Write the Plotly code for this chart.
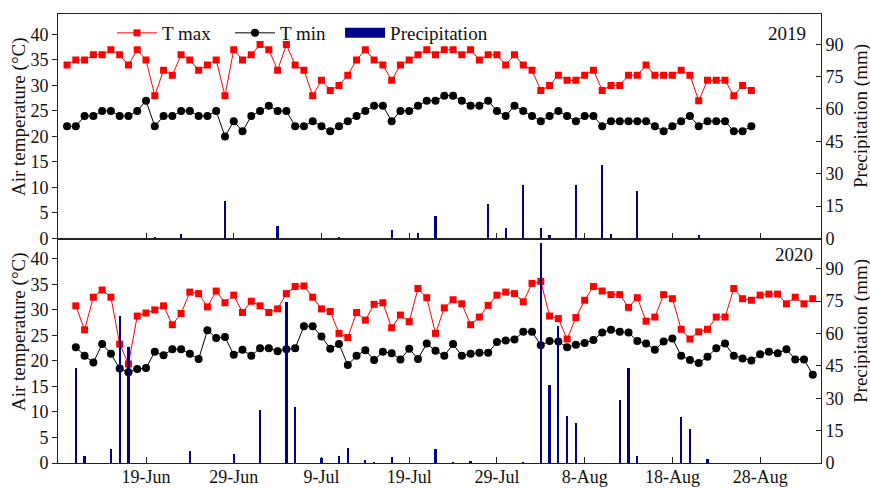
import plotly.graph_objects as go
from plotly.subplots import make_subplots
import pandas as pd

# ---------------- data ----------------
start_2019 = "2019-06-10"
tmax_2019 = [34, 35, 35, 36, 36, 37, 36, 34, 37, 35,
             28, 33, 32, 36, 35, 33, 34, 35, 28, 37,
             35, 36, 38, 37, 33, 38, 34, 33, 28, 31,
             29, 30, 32, 35, 37, 35, 34, 31, 34, 35,
             36, 37, 36, 37, 37, 36, 37, 35, 36, 36,
             34, 36, 34, 33, 29, 30, 32, 31, 31, 32,
             33, 29, 30, 30, 32, 32, 34, 32, 32, 32,
             33, 32, 27, 31, 31, 31, 28, 30, 29]
tmin_2019 = [22, 22, 24, 24, 25, 25, 24, 24, 25, 27,
             22, 24, 24, 25, 25, 24, 24, 25, 20, 23,
             21, 24, 25, 26, 25, 25, 22, 22, 23, 22,
             21, 22, 23, 24, 25, 26, 26, 23, 25, 25,
             26, 27, 27, 28, 28, 27, 26, 26, 27, 25,
             24, 26, 25, 24, 23, 24, 25, 24, 23, 24,
             24, 22, 23, 23, 23, 23, 23, 22, 21, 22,
             23, 24, 22, 23, 23, 23, 21, 21, 22]
precip_dates_2019 = ["2019-06-20", "2019-06-23", "2019-06-28", "2019-07-04", "2019-07-11",
                     "2019-07-17", "2019-07-20", "2019-07-22", "2019-07-28", "2019-07-30",
                     "2019-08-01", "2019-08-03", "2019-08-04", "2019-08-07", "2019-08-10",
                     "2019-08-11", "2019-08-14", "2019-08-21"]
precip_2019 = [0.5, 2.3, 17.6, 5.9, 0.3,
               4.0, 2.7, 10.5, 15.8, 4.8,
               25.0, 5.0, 1.7, 25.0, 34.0,
               2.3, 22.1, 1.7]

start_2020 = "2020-06-11"
tmax_2020 = [30.8, 26.1, 32.5, 33.9, 32.5, 23.3, 19.4, 28.8, 29.4, 30.0,
             30.8, 27.1, 29.3, 33.5, 33.2, 30.6, 33.7, 31.4, 32.9, 29.5,
             31.7, 30.8, 29.5, 30.2, 33.2, 34.6, 34.7, 32.5, 30.2, 29.7,
             25.4, 24.6, 29.5, 28.0, 31.1, 31.4, 26.5, 29.0, 27.7, 34.2,
             32.4, 25.4, 30.4, 32.0, 31.2, 27.1, 28.6, 30.9, 32.9, 33.5,
             33.2, 31.6, 35.2, 35.6, 28.8, 28.3, 24.3, 28.5, 31.9, 34.6,
             33.7, 33.0, 33.0, 30.5, 32.4, 27.8, 28.6, 33.0, 32.2, 26.2,
             24.3, 25.7, 26.2, 28.6, 28.6, 34.2, 32.2, 31.9, 32.9, 33.1,
             33.1, 31.2, 32.5, 31.2, 32.2]
tmin_2020 = [22.7, 21.0, 19.7, 23.3, 21.4, 18.5, 17.8, 18.4, 18.6, 21.8,
             21.1, 22.3, 22.3, 21.4, 20.4, 26.0, 24.5, 24.7, 21.2, 22.2,
             21.0, 22.5, 22.5, 21.9, 22.3, 22.5, 26.8, 26.8, 24.8, 22.4,
             23.3, 19.2, 21.0, 22.1, 20.2, 21.8, 21.5, 20.3, 22.4, 20.4,
             23.4, 22.0, 21.0, 23.3, 21.0, 21.4, 21.6, 21.6, 23.7, 24.0,
             24.2, 25.7, 25.7, 23.1, 23.9, 23.8, 22.7, 23.2, 23.5, 24.1,
             25.6, 26.1, 25.7, 25.6, 23.9, 23.4, 22.2, 23.8, 24.4, 21.0,
             20.2, 19.6, 20.8, 22.5, 23.4, 21.0, 20.5, 20.1, 21.3, 21.8,
             21.5, 22.3, 20.3, 20.3, 17.3]
precip_dates_2020 = ["2020-06-11", "2020-06-12", "2020-06-15", "2020-06-16", "2020-06-17",
                     "2020-06-24", "2020-06-29", "2020-07-02", "2020-07-05", "2020-07-06",
                     "2020-07-09", "2020-07-11", "2020-07-12", "2020-07-14", "2020-07-15",
                     "2020-07-17", "2020-07-22", "2020-07-24", "2020-07-26", "2020-08-01",
                     "2020-08-03", "2020-08-04", "2020-08-05", "2020-08-06", "2020-08-07",
                     "2020-08-12", "2020-08-13", "2020-08-14", "2020-08-15", "2020-08-16",
                     "2020-08-19", "2020-08-20", "2020-08-22"]
precip_2020 = [44.2, 3.4, 6.6, 68.2, 54.0,
               6.0, 4.5, 24.9, 74.8, 26.0,
               2.4, 3.7, 7.1, 1.5, 0.3,
               3.1, 6.8, 0.6, 1.0, 0.9,
               102.0, 36.3, 63.7, 22.2, 18.8,
               29.5, 44.2, 3.7, 0.2, 0.2,
               21.7, 16.0, 2.0]

tick_md = ["06-19", "06-29", "07-09", "07-19", "07-29", "08-08", "08-18", "08-28"]
tick_text = ["19-Jun", "29-Jun", "9-Jul", "19-Jul", "29-Jul", "8-Aug", "18-Aug", "28-Aug"]

# ---------------- figure ----------------
FONT = "Liberation Serif"
AX = "#222222"
NAVY = "#00008B"
BAR_W = 0.26 * 86400000
NB = "\u00a0"

fig = make_subplots(rows=2, cols=1, vertical_spacing=0,
                    specs=[[{"secondary_y": True}], [{"secondary_y": True}]])

panels = [
    (2019, start_2019, tmax_2019, tmin_2019, precip_dates_2019, precip_2019),
    (2020, start_2020, tmax_2020, tmin_2020, precip_dates_2020, precip_2020),
]

for i, (yr, start, tmax, tmin, pdates, pvals) in enumerate(panels):
    row = i + 1
    first = (i == 0)
    d = pd.date_range(start, periods=len(tmax), freq="D")
    fig.add_trace(go.Scatter(x=d, y=tmax, mode="lines+markers", name="T max" + NB * 3,
                             line=dict(color="#FF0000", width=1),
                             marker=dict(symbol="square", size=7, color="#FF0000"),
                             showlegend=first, legendgroup="tmax"),
                  row=row, col=1, secondary_y=False)
    fig.add_trace(go.Scatter(x=d, y=tmin, mode="lines+markers", name="T min" + NB * 2,
                             line=dict(color="#000000", width=1),
                             marker=dict(symbol="circle", size=8, color="#000000"),
                             showlegend=first, legendgroup="tmin"),
                  row=row, col=1, secondary_y=False)
    fig.add_trace(go.Bar(x=pd.to_datetime(pdates), y=pvals, name="Precipitation",
                         marker=dict(color=NAVY, line=dict(width=0)),
                         width=BAR_W, showlegend=False, legendgroup="p"),
                  row=row, col=1, secondary_y=True)
    if first:
        # legend swatch for precipitation (wide navy block as in the reference)
        fig.add_trace(go.Scatter(x=[None], y=[None], mode="lines", name="Precipitation",
                                 line=dict(color=NAVY, width=20), legendgroup="p",
                                 showlegend=True, hoverinfo="skip"),
                      row=row, col=1, secondary_y=True)

    xr = [f"{yr}-06-08 23:15", f"{yr}-09-03 22:30"]
    fig.update_xaxes(type="date", range=xr, domain=[0, 1],
                     tickvals=[f"{yr}-{m}" for m in tick_md], ticktext=tick_text,
                     ticks="inside", ticklen=6, tickcolor=AX,
                     showticklabels=(row == 2), ticklabelstandoff=-3,
                     tickfont=dict(family=FONT, size=18, color="#111"),
                     showline=True, linecolor=AX, linewidth=1, mirror=True,
                     showgrid=False, zeroline=False, automargin=False, row=row, col=1)
    fig.update_yaxes(range=[0, 44], tick0=0, dtick=5, ticks="outside", ticklen=5,
                     tickcolor=AX, showline=True, linecolor=AX, linewidth=1,
                     tickfont=dict(family=FONT, size=18, color="#111"), automargin=False,
                     showgrid=False, zeroline=False, row=row, col=1, secondary_y=False)
    fig.update_yaxes(range=[0, 104], tick0=0, dtick=15, ticks="inside", ticklen=5,
                     tickcolor=AX, showline=True, linecolor=AX, linewidth=1,
                     tickfont=dict(family=FONT, size=18, color="#111"), automargin=False,
                     showgrid=False, zeroline=False, row=row, col=1, secondary_y=True)

W, H = 870, 489
L, R, T, B = 58, 49, 14, 26
pw, ph = W - L - R, H - T - B


def px(x):
    return (x - L) / pw


def py(y):
    return 1 - (y - T) / ph


ann = [
    dict(text="2019", x=px(808), y=py(33), xanchor="right", yanchor="middle",
         font=dict(size=19)),
    dict(text="2020", x=px(815), y=py(254), xanchor="right", yanchor="middle",
         font=dict(size=19)),
    dict(text="Air temperature (\u00b0C)", x=px(19), y=py(117), textangle=-90,
         xanchor="center", yanchor="middle", font=dict(size=19)),
    dict(text="Air temperature (\u00b0C)", x=px(19), y=py(332), textangle=-90,
         xanchor="center", yanchor="middle", font=dict(size=19)),
    dict(text="Precipitation (mm)", x=px(861), y=py(116), textangle=-90,
         xanchor="center", yanchor="middle", font=dict(size=19)),
    dict(text="Precipitation (mm)", x=px(861), y=py(331), textangle=-90,
         xanchor="center", yanchor="middle", font=dict(size=19)),
]
for a in ann:
    a.update(xref="paper", yref="paper", showarrow=False)
    a["font"].update(family=FONT, color="#111")

fig.update_layout(
    width=W, height=H,
    margin=dict(l=L, r=R, t=T, b=B, autoexpand=False),
    paper_bgcolor="white", plot_bgcolor="white",
    font=dict(family=FONT, size=17, color="#111"),
    bargap=0,
    annotations=ann,
    legend=dict(orientation="h", x=px(112), y=py(33), xanchor="left", yanchor="middle",
                font=dict(family=FONT, size=19, color="#111"),
                bgcolor="rgba(0,0,0,0)", traceorder="normal", itemwidth=40),
)

fig.write_html("out.html", config={"displayModeBar": False},
               post_script="document.body.style.margin='0';document.body.style.padding='0';")
